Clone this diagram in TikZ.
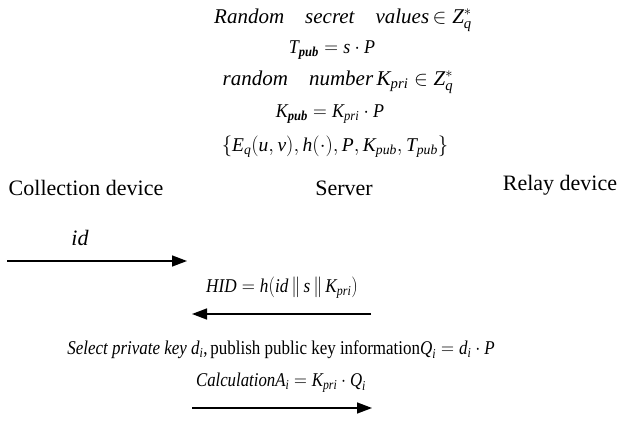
\documentclass[tikz,border=0pt]{standalone}
\usepackage{amsmath}
\usepackage{graphicx}
\usepackage{fontspec}
\setmainfont{Liberation Serif}
\usetikzlibrary{arrows.meta}
\newcommand\mi[1]{\textit{#1}}
\newcommand\mb[1]{\textbf{\textit{#1}}}
\newcommand\sq[2]{\scalebox{#1}[1]{#2}}
\begin{document}
\begin{tikzpicture}[x=1pt,y=-1pt,
  txt/.style={inner sep=0pt,font=\fontsize{22}{26}\selectfont},
  mtxt/.style={inner sep=0pt,font=\fontsize{19.5}{23}\selectfont},
  ttxt/.style={inner sep=0pt,font=\fontsize{21}{25}\selectfont},
  msg/.style={line width=1.4pt,-{Triangle[length=15pt,width=11pt]}}]
\useasboundingbox (0,0) rectangle (626,422);
\node[ttxt] (l1) at (343,20) {{\itshape Random\quad secret\quad values}\,$\in \mi{Z}^{*}_{\mi{q}}$};
\node[mtxt] (l2) at (332,50) {\sq{0.92}{$\mi{T}_{\mb{pub}}=\mi{s}\cdot\mi{P}$}};
\node[ttxt] (l3) at (338,82) {{\itshape random\quad number}\,$\mi{K}_{\mi{pri}}\in\mi{Z}^{*}_{\mi{q}}$};
\node[mtxt] (l4) at (330,114) {\sq{0.92}{$\mi{K}_{\mb{pub}}=\mi{K}_{\mi{pri}}\cdot\mi{P}$}};
\node[mtxt] (l5) at (335,147) {$\{\mi{E}_{\mi{q}}(\mi{u},\mi{v}),\mi{h}(\cdot),\mi{P},\mi{K}_{\mi{pub}},\mi{T}_{\mi{pub}}\}$};
\node[txt] (cd) at (86,188) {Collection device};
\node[txt] (sv) at (344,188) {Server};
\node[txt] (rd) at (560,185) {Relay device};
\node[txt] (id) at (80,238) {\itshape id};
\node[mtxt] (hid) at (282,288) {\sq{0.88}{$\mi{HID}=\mi{h}(\mi{id}\,\|\,\mi{s}\,\|\,\mi{K}_{\mi{pri}})$}};
\node[mtxt] (sel) at (281,350) {\sq{0.87}{{\itshape Select private key} $\mi{d}_{\mi{i}}$,\,publish public key information$\mi{Q}_{\mi{i}}=\mi{d}_{\mi{i}}\cdot\mi{P}$}};
\node[mtxt] (calc) at (281,383) {\sq{0.86}{{\itshape Calculation}$\mi{A}_{\mi{i}}=\mi{K}_{\mi{pri}}\cdot\mi{Q}_{\mi{i}}$}};
\coordinate (a1s) at (7,261);
\coordinate (a1e) at (187,261);
\coordinate (a2s) at (371,314);
\coordinate (a2e) at (192,314);
\coordinate (a3s) at (192,408);
\coordinate (a3e) at (372,408);
\draw[msg] (a1s) -- (a1e);
\draw[msg] (a2s) -- (a2e);
\draw[msg] (a3s) -- (a3e);
\end{tikzpicture}
\end{document}
